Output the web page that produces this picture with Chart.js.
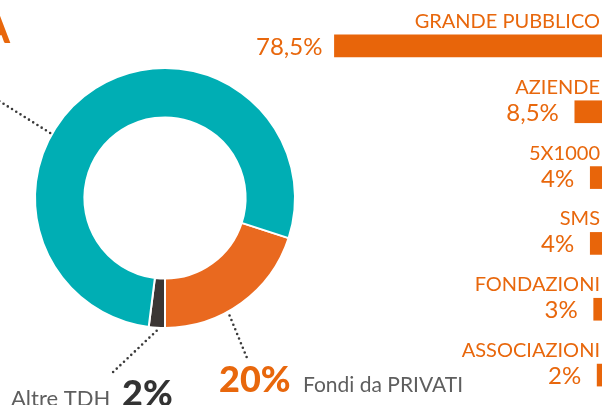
<!DOCTYPE html>
<html lang="it">
<head>
<meta charset="UTF-8">
<title>Fondi da privati</title>
<style>
  html, body { margin: 0; padding: 0; background: #fff; overflow: hidden; }
  #wrap { position: relative; width: 602px; height: 405px; overflow: hidden; }
  #donut { position: absolute; left: 0; top: 0; }
  #bars { position: absolute; left: 240px; top: 0; }
</style>
</head>
<body>
<div id="wrap">
  <canvas id="donut" width="602" height="405"></canvas>
  <canvas id="bars" width="364" height="410"></canvas>
</div>
<script src="https://cdn.jsdelivr.net/npm/chart.js"></script>
<script>
// doughnut: share of funds
const donutLabels = ['Fondi da PRIVATI', 'Altre TDH', 'Altro'];
const donutValues = [20, 2, 78];
const donutColors = ['#e9691f', '#3b3634', '#00aeb4'];

// bars: breakdown of private funds
const barLabels = ['GRANDE PUBBLICO', 'AZIENDE', '5X1000', 'SMS', 'FONDAZIONI', 'ASSOCIAZIONI'];
const barValues = [78.5, 8.5, 4, 4, 3, 2];
const barTexts = ['78,5%', '8,5%', '4%', '4%', '3%', '2%'];

const ORANGE = '#e8670c';
const GREY = '#5e5e5e';

function dotted(ctx, p, q) {
  ctx.save();
  ctx.strokeStyle = '#3a3a3a';
  ctx.lineWidth = 2.6;
  ctx.lineCap = 'round';
  ctx.setLineDash([0, 5]);
  ctx.beginPath();
  ctx.moveTo(p[0], p[1]);
  ctx.lineTo(q[0], q[1]);
  ctx.stroke();
  ctx.restore();
}

const donutNotes = {
  id: 'donutNotes',
  afterDatasetsDraw(chart) {
    const ctx = chart.ctx;
    const arcs = chart.getDatasetMeta(0).data;
    // point on the outer edge of an arc, at a fraction of its sweep
    const edge = (arc, frac, extra) => {
      const a = arc.startAngle + (arc.endAngle - arc.startAngle) * frac;
      const r = arc.outerRadius + extra;
      return [arc.x + Math.cos(a) * r, arc.y + Math.sin(a) * r];
    };
    dotted(ctx, edge(arcs[2], 0.4, 2), [-4, 99]);
    dotted(ctx, edge(arcs[1], 0.5, 3), [110, 375]);
    dotted(ctx, edge(arcs[0], 0.6, 4), [247, 358]);

    ctx.save();
    ctx.textBaseline = 'alphabetic';
    ctx.fillStyle = ORANGE;
    ctx.textAlign = 'right';
    ctx.font = 'bold 43px Lato';
    ctx.fillText('A', 10, 43);

    ctx.textAlign = 'left';
    ctx.font = '900 36px Lato';
    ctx.fillText('20%', 219, 392);
    ctx.fillStyle = GREY;
    ctx.font = '21px Lato';
    ctx.fillText('Fondi da PRIVATI', 303, 392);

    ctx.font = '22px Lato';
    ctx.fillText('Altre TDH', 11, 406);
    ctx.fillStyle = '#333';
    ctx.font = '900 36px Lato';
    ctx.fillText('2%', 122, 406);
    ctx.restore();
  }
};

const barNotes = {
  id: 'barNotes',
  afterDatasetsDraw(chart) {
    const ctx = chart.ctx;
    const right = chart.chartArea.right - 4;
    ctx.save();
    ctx.fillStyle = ORANGE;
    ctx.textAlign = 'right';
    ctx.textBaseline = 'alphabetic';
    chart.getDatasetMeta(0).data.forEach((bar, i) => {
      const top = bar.y - bar.height / 2;
      const gap = i === 0 ? 12 : 16;
      ctx.font = '20px Lato';
      ctx.fillText(barLabels[i], right, top - 7);
      ctx.font = '24px Lato';
      ctx.fillText(barTexts[i], Math.min(bar.x, bar.base) - gap, top + bar.height - 2);
    });
    ctx.restore();
  }
};

new Chart(document.getElementById('donut'), {
  type: 'doughnut',
  data: {
    labels: donutLabels,
    datasets: [{
      data: donutValues,
      backgroundColor: donutColors,
      borderColor: '#fff',
      borderWidth: 2
    }]
  },
  options: {
    responsive: false,
    animation: false,
    rotation: 108,
    cutout: '62%',
    layout: { padding: { left: 34, top: 67, right: 306, bottom: 76 } },
    plugins: { legend: { display: false }, tooltip: { enabled: false } }
  },
  plugins: [donutNotes]
});

new Chart(document.getElementById('bars'), {
  type: 'bar',
  data: {
    labels: barLabels,
    datasets: [{
      data: barValues,
      backgroundColor: '#e8650a',
      barThickness: 22
    }]
  },
  options: {
    indexAxis: 'y',
    responsive: false,
    animation: false,
    layout: { padding: { top: 13, bottom: 2, left: 0, right: 0 } },
    plugins: { legend: { display: false }, tooltip: { enabled: false } },
    scales: {
      x: { display: false, reverse: true, min: 0, max: 106 },
      y: { display: false }
    }
  },
  plugins: [barNotes]
});
</script>
</body>
</html>
